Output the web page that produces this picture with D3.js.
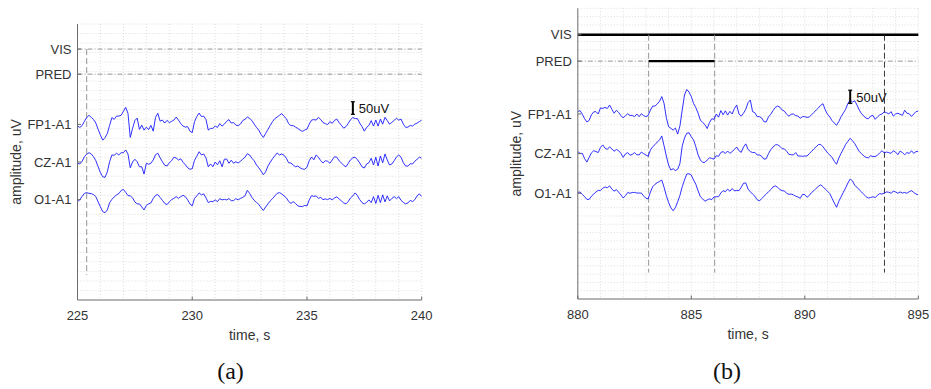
<!DOCTYPE html>
<html>
<head>
<meta charset="utf-8">
<script src="https://cdn.jsdelivr.net/npm/d3@7"></script>
<style>
  body { margin: 0; background: #fff; }
  svg { display: block; font-family: "Liberation Sans", Arial, sans-serif; }
</style>
</head>
<body>
<svg id="chart" width="931" height="389"></svg>
<script>
// ---- data (uV offsets from each channel baseline, one sample every 0.1 s) ----
const rowLabels = ['VIS', 'PRED', 'FP1-A1', 'CZ-A1', 'O1-A1'];
const rowOffsets = [600, 500, 300, 150, 0];   // uV
const yDomain = [-400, 700];
const sampleStep = 0.1;

const timeRangeA = [225, 240];
const timeRangeB = [880, 895];
const xTicksA = [225, 230, 235, 240];
const xTicksB = [880, 885, 890, 895];

const fp1A = [-7,-12,-5,12,27,36,28,19,5,-20,-43,-63,-53,-36,-4,27,20,33,33,36,52,68,44,-52,-16,15,25,-20,-3,-23,-11,-21,-4,-27,28,44,13,17,5,16,7,12,17,29,17,3,-7,-11,-9,-27,-33,
  11,31,45,31,33,19,-23,-16,-16,-7,-12,3,-7,1,12,19,5,7,-3,-5,1,15,20,29,24,15,1,-12,-23,-40,-52,-36,-20,-4,11,23,29,36,43,32,23,3,-5,-5,-11,-16,-23,-28,-23,-19,
  1,17,19,17,28,19,7,3,-1,11,4,16,21,7,-4,-15,-9,4,19,27,23,23,5,-9,-27,-12,-4,15,-7,17,-7,21,1,28,15,1,8,16,24,17,21,1,-12,-11,-4,-7,1,5,11,17];
const czA = [-5,-8,3,21,31,37,32,21,5,-19,-43,-59,-61,-39,1,28,27,35,28,37,37,48,32,-23,0,11,1,-19,-19,-48,-5,-9,-5,8,29,35,17,1,-13,-16,-3,5,19,16,8,13,-1,-11,-23,-29,-27,
  7,23,41,28,32,16,-19,-8,-19,0,-11,5,-19,11,12,-5,7,-5,1,-4,3,11,19,33,28,15,5,-12,-23,-36,-51,-39,-16,-1,13,25,36,28,32,27,15,-3,-4,-12,-19,-16,-23,-28,-29,-21,
  5,20,9,28,19,5,-4,5,3,-5,8,21,19,5,-4,-13,-19,-5,9,17,19,9,-4,-19,-24,-8,-3,15,-12,19,-16,24,-3,32,8,-12,-8,5,20,28,19,-3,-16,-16,-7,-8,3,11,19,15];
const o1A = [-8,-1,13,25,28,25,24,20,12,-9,-29,-48,-52,-41,-12,1,11,19,24,36,41,29,16,15,7,-9,-17,-17,-29,-41,-23,-17,-13,5,17,20,9,-3,-15,-20,-9,0,5,12,5,12,17,12,-1,-17,-25,
  5,15,27,19,23,7,-12,-7,-8,-1,-8,4,-1,1,-1,4,-4,-4,4,-1,5,9,15,37,25,9,-3,-11,-19,-32,-43,-29,-17,-5,4,15,25,28,23,15,7,-7,-15,-8,-15,-25,-27,-28,-23,-25,
  -1,16,13,15,5,9,0,3,0,5,-1,7,11,3,-5,-13,-17,-7,7,15,27,16,0,-12,-17,-11,-1,-12,12,-15,17,-12,19,-9,15,-5,5,12,4,12,-3,-11,-17,-13,-3,-8,0,15,23,12];

const fp1B = [9,13,-1,-18,-30,-24,-3,8,9,0,23,21,25,21,34,18,3,14,6,-6,-15,-6,1,-6,-5,-10,0,-10,1,-6,-10,-5,15,30,30,38,48,66,40,-14,-48,-54,-61,-53,-76,-45,15,72,93,83,66,
  40,24,3,-23,-32,-40,-55,-33,-18,-20,0,-12,13,-3,12,-4,10,0,21,34,0,-8,3,18,43,53,9,5,-10,-10,-15,-29,-30,-11,-1,13,25,30,26,15,11,-1,-8,-1,0,-6,-8,-16,-10,-10,
  -13,-11,-3,6,15,23,33,39,16,-1,-11,-25,-34,-43,-28,-10,4,18,40,53,45,50,34,15,1,-8,-16,-18,-8,-5,-20,-11,-3,0,8,5,0,9,-8,0,3,-1,-5,14,3,1,-9,0,9,11];
const czB = [8,1,1,-19,-32,-14,3,11,8,4,24,33,21,16,26,18,9,16,11,1,-14,-1,4,-6,-3,4,-4,-5,6,0,-5,-10,14,26,34,44,52,67,30,-9,-43,-62,-57,-64,-59,-37,29,59,77,79,64,
  52,26,-5,-24,-33,-33,-24,-16,-18,-21,-8,-10,4,8,1,10,1,8,16,25,11,5,25,37,16,8,4,5,-5,-5,-10,-21,-19,0,15,25,33,34,28,19,18,9,-3,-4,-5,4,-9,-9,-10,-9,
  -9,0,9,18,26,34,35,26,15,3,-5,-14,-29,-40,-16,1,18,35,47,58,49,38,23,8,0,-9,-14,-16,-8,-11,-11,-6,3,11,3,6,4,1,11,6,-4,10,4,-4,4,1,11,1,8,8];
const o1B = [3,5,-4,-13,-23,-23,-11,-3,5,11,11,19,24,21,28,16,8,14,4,-6,-18,-9,3,0,3,3,1,1,1,-10,-19,-21,5,25,34,40,45,50,23,-9,-35,-55,-66,-54,-32,-8,25,50,73,74,69,
  50,34,9,-13,-21,-30,-25,-21,-24,-14,-13,-13,1,10,6,16,8,18,9,11,10,23,38,39,16,6,-3,-11,-24,-29,-20,-11,-3,6,14,24,28,23,14,10,9,0,-4,-3,-6,-11,-14,-19,-4,-5,
  -15,-8,3,10,19,26,32,25,16,8,-1,-19,-37,-53,-30,-13,4,21,39,54,47,30,23,13,5,-4,-13,-18,-16,-13,-16,-8,-1,-3,1,5,4,0,8,5,0,5,1,3,0,6,10,3,-3,-6];

// annotation intervals (s) and event markers
const visIntervalsA = [];
const predIntervalsA = [];
const visIntervalsB = [[880, 895]];
const predIntervalsB = [[883.12, 886.03]];
const markersA = [{ t: 225.4, kind: 'pred' }];
const markersB = [{ t: 883.12, kind: 'pred' }, { t: 886.03, kind: 'pred' }, { t: 893.51, kind: 'vis' }];
const markerSpan = [-300, 600];       // uV
const scaleBar = { after: 12, lo: 340, hi: 390, label: '50uV' };

// ---- layout ----
const panels = [
  { id: 'a', range: timeRangeA, ticks: xTicksA, traces: [fp1A, czA, o1A], vis: visIntervalsA, pred: predIntervalsA,
    markers: markersA, left: 77.5, right: 421.7, top: 24, bottom: 300, gridRows: 29, caption: '(a)', capX: 230.5 },
  { id: 'b', range: timeRangeB, ticks: xTicksB, traces: [fp1B, czB, o1B], vis: visIntervalsB, pred: predIntervalsB,
    markers: markersB, left: 577.8, right: 918.3, top: 8.3, bottom: 299, gridRows: 35, caption: '(b)', capX: 727 }
];

const svg = d3.select('#chart');
svg.append('rect').attr('width', 931).attr('height', 389).attr('fill', '#fff');

function drawPanel(p) {
  const x = d3.scaleLinear().domain(p.range).range([p.left, p.right]);
  const y = d3.scaleLinear().domain(yDomain).range([p.bottom, p.top]);
  const g = svg.append('g').attr('class', 'panel-' + p.id);

  g.append('clipPath').attr('id', 'clip-' + p.id)
    .append('rect')
    .attr('x', p.left).attr('y', p.top)
    .attr('width', p.right - p.left).attr('height', p.bottom - p.top);

  // minor grid
  const gridT = d3.range(p.range[0] + 1, p.range[1] + 0.5, 1);
  const gridV = d3.range(1, p.gridRows + 1).map(i => yDomain[0] + i * (yDomain[1] - yDomain[0]) / p.gridRows);
  g.append('g').selectAll('line').data(gridT).join('line')
    .attr('x1', d => x(d)).attr('x2', d => x(d))
    .attr('y1', p.top).attr('y2', p.bottom)
    .attr('stroke', '#cfcfcf').attr('stroke-width', 0.7).attr('stroke-dasharray', '1,2');
  g.append('g').selectAll('line').data(gridV).join('line')
    .attr('x1', p.left).attr('x2', p.right)
    .attr('y1', d => y(d)).attr('y2', d => y(d))
    .attr('stroke', '#cfcfcf').attr('stroke-width', 0.7).attr('stroke-dasharray', '1,2');

  // VIS / PRED baselines (dash-dot) + annotated intervals (thick)
  const annot = [{ row: 0, ivals: p.vis }, { row: 1, ivals: p.pred }];
  annot.forEach(a => {
    g.append('line')
      .attr('x1', p.left).attr('x2', p.right)
      .attr('y1', y(rowOffsets[a.row])).attr('y2', y(rowOffsets[a.row]))
      .attr('stroke', '#7a7a7a').attr('stroke-width', 0.8).attr('stroke-dasharray', '5,2,1,2');
    g.append('g').selectAll('line').data(a.ivals).join('line')
      .attr('x1', d => x(d[0])).attr('x2', d => x(d[1]))
      .attr('y1', y(rowOffsets[a.row])).attr('y2', y(rowOffsets[a.row]))
      .attr('stroke', '#000').attr('stroke-width', 2.4);
  });

  // event markers
  g.append('g').selectAll('line').data(p.markers).join('line')
    .attr('x1', d => x(d.t)).attr('x2', d => x(d.t))
    .attr('y1', y(markerSpan[1])).attr('y2', y(markerSpan[0]))
    .attr('stroke', d => d.kind === 'vis' ? '#222' : '#8a8a8a')
    .attr('stroke-width', 0.9).attr('stroke-dasharray', '6,3');

  // EEG traces
  const line = d3.line()
    .x((d, i) => x(p.range[0] + i * sampleStep))
    .y(d => d);
  g.append('g').attr('clip-path', `url(#clip-${p.id})`)
    .selectAll('path').data(p.traces).join('path')
    .attr('d', (vals, ci) => line(vals.map(v => y(rowOffsets[ci + 2] + v))))
    .attr('fill', 'none').attr('stroke', '#1a1aff').attr('stroke-width', 0.9)
    .attr('stroke-linejoin', 'round');

  // scale bar
  const sbX = x(p.range[0] + scaleBar.after);
  const sb = g.append('g').attr('stroke', '#000');
  sb.append('line').attr('x1', sbX).attr('x2', sbX)
    .attr('y1', y(scaleBar.lo)).attr('y2', y(scaleBar.hi)).attr('stroke-width', 2);
  [scaleBar.lo, scaleBar.hi].forEach(v => {
    sb.append('line').attr('x1', sbX - 2).attr('x2', sbX + 2)
      .attr('y1', y(v)).attr('y2', y(v)).attr('stroke-width', 1.2);
  });
  g.append('text').attr('x', sbX + 6).attr('y', y((scaleBar.lo + scaleBar.hi) / 2) + 5)
    .attr('font-size', 13).attr('fill', '#111').text(scaleBar.label);

  // axes
  const axisColor = '#6b6b6b';
  g.append('line').attr('x1', p.left).attr('x2', p.left).attr('y1', p.top).attr('y2', p.bottom)
    .attr('stroke', axisColor).attr('stroke-width', 1);
  g.append('line').attr('x1', p.left).attr('x2', p.right).attr('y1', p.bottom).attr('y2', p.bottom)
    .attr('stroke', axisColor).attr('stroke-width', 1);
  g.append('g').selectAll('line').data(p.ticks).join('line')
    .attr('x1', d => x(d)).attr('x2', d => x(d))
    .attr('y1', p.bottom).attr('y2', p.bottom - 3.5)
    .attr('stroke', axisColor);
  g.append('g').selectAll('line').data(rowOffsets).join('line')
    .attr('x1', p.left).attr('x2', p.left + 3.5)
    .attr('y1', d => y(d)).attr('y2', d => y(d))
    .attr('stroke', axisColor);

  g.append('g').selectAll('text').data(p.ticks).join('text')
    .attr('x', d => x(d)).attr('y', p.bottom + 20)
    .attr('text-anchor', 'middle').attr('font-size', 13).attr('fill', '#333')
    .text(d => d);
  g.append('g').selectAll('text').data(rowLabels).join('text')
    .attr('x', p.left - 6).attr('y', (d, i) => y(rowOffsets[i]) + 4.6)
    .attr('text-anchor', 'end').attr('font-size', 13).attr('fill', '#333')
    .text(d => d);

  g.append('text')
    .attr('x', (p.left + p.right) / 2).attr('y', p.bottom + 39.5)
    .attr('text-anchor', 'middle').attr('font-size', 14).attr('fill', '#333')
    .text('time, s');
  g.append('text')
    .attr('transform', `translate(${p.left - 57},${(p.top + p.bottom) / 2}) rotate(-90)`)
    .attr('text-anchor', 'middle').attr('font-size', 14).attr('fill', '#333')
    .text('amplitude, uV');

  svg.append('text')
    .attr('x', p.capX).attr('y', 379)
    .attr('text-anchor', 'middle')
    .attr('font-family', '"Liberation Serif", "Times New Roman", serif')
    .attr('font-size', 24).attr('fill', '#111')
    .text(p.caption);
}

panels.forEach(drawPanel);
</script>
</body>
</html>
